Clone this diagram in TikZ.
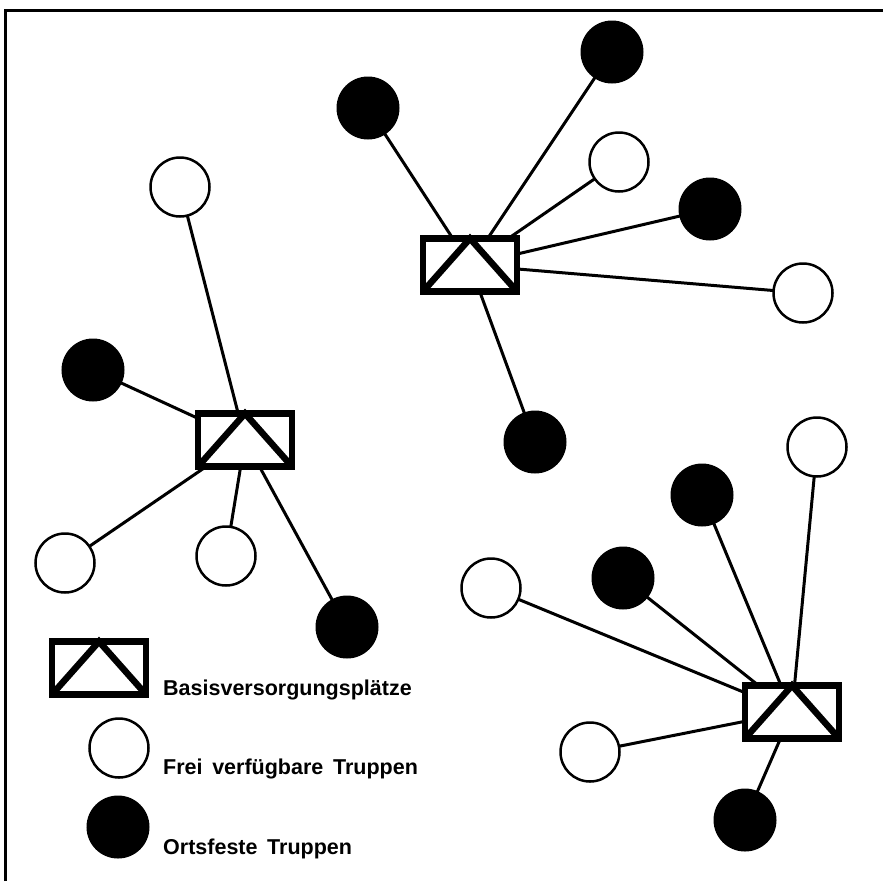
\documentclass[tikz,border=0pt]{standalone}
\usepackage{fontspec}
\setmainfont{Liberation Sans}
\newcommand\mylegendfont{\fontsize{21.5}{24}\selectfont\bfseries\spaceskip=0.45em\relax}
\begin{document}
\begin{tikzpicture}[x=1pt,y=-1pt,
  base/.style={draw=black,fill=white,line width=6.5pt,rectangle,minimum width=94pt,minimum height=53pt,inner sep=0pt,outer sep=0pt},
  tri/.style={line width=6.5pt,line join=miter},
  frei/.style={draw=black,fill=white,line width=2.5pt,circle,minimum size=59pt,inner sep=0pt,outer sep=0pt},
  fest/.style={draw=black,fill=black,line width=2pt,circle,minimum size=61pt,inner sep=0pt,outer sep=0pt},
  link/.style={line width=3pt},
  frame/.style={line width=3pt},
  legend/.style={anchor=base west,inner sep=0pt,font=\mylegendfont}]
\useasboundingbox (0,0) rectangle (883,881);
\coordinate (f1) at (5,881);
\coordinate (f2) at (5,10);
\coordinate (f3) at (883,10);
\draw[frame] (f1) -- (f2) -- (f3);

% cluster 1
\node[base] (b1) at (245,440) {};
\draw[tri] (b1.south west) -- (b1.north) -- (b1.south east);
\node[frei] (a1) at (180,187) {};
\node[fest] (a2) at (93,370) {};
\node[frei] (a3) at (65,563) {};
\node[frei] (a4) at (226,556) {};
\node[fest] (a5) at (347,627) {};
\foreach \n in {a1,a2,a3,a4,a5} \draw[link] (\n) -- (b1);

% cluster 2
\node[base] (b2) at (470,265) {};
\draw[tri] (b2.south west) -- (b2.north) -- (b2.south east);
\node[fest] (c1) at (368,108) {};
\node[fest] (c2) at (612,52) {};
\node[frei] (c3) at (619,162) {};
\node[fest] (c4) at (710,209) {};
\node[frei] (c5) at (803,293) {};
\node[fest] (c6) at (535,442) {};
\foreach \n in {c1,c2,c3,c4,c5,c6} \draw[link] (\n) -- (b2);

% cluster 3
\node[base] (b3) at (792,712) {};
\draw[tri] (b3.south west) -- (b3.north) -- (b3.south east);
\node[frei] (d1) at (817,447) {};
\node[fest] (d2) at (702,495) {};
\node[fest] (d3) at (623,578) {};
\node[frei] (d4) at (491,588) {};
\node[frei] (d5) at (590,752) {};
\node[fest] (d6) at (745,820) {};
\foreach \n in {d1,d2,d3,d4,d5,d6} \draw[link] (\n) -- (b3);

% legend
\node[base] (lb) at (99,668) {};
\draw[tri] (lb.south west) -- (lb.north) -- (lb.south east);
\node[frei] (lw) at (119,748) {};
\node[fest] (lf) at (118,827) {};
\node[legend] (t1) at (163,695) {Basisversorgungsplätze};
\node[legend] (t2) at (163,774) {Frei verfügbare Truppen};
\node[legend] (t3) at (163,854) {Ortsfeste Truppen};
\end{tikzpicture}
\end{document}
